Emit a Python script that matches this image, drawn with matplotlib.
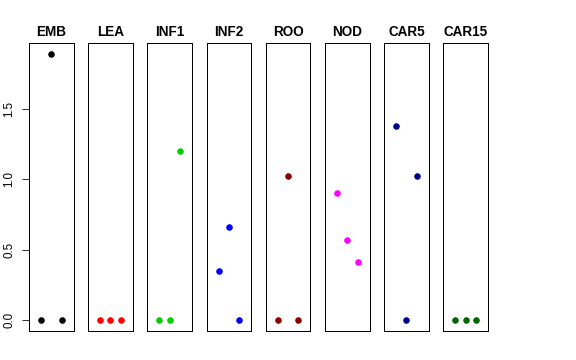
import matplotlib
matplotlib.use("Agg")
import matplotlib.pyplot as plt

plt.rcParams['font.family'] = ['Liberation Sans', 'DejaVu Sans']

# panel names, colours and the three values in each panel
groups = ["EMB", "LEA", "INF1", "INF2", "ROO", "NOD", "CAR5", "CAR15"]
colors = ["black", "red", "#00CD00", "blue", "#8B0000", "magenta", "#00008B", "#006400"]
xpos = [1, 2, 3]
values = [
    [0.0, 1.89, 0.0],
    [0.0, 0.0, 0.0],
    [0.0, 0.0, 1.20],
    [0.35, 0.665, 0.0],
    [0.0, 1.025, 0.0],
    [0.905, 0.57, 0.41],
    [1.378, 0.0, 1.025],
    [0.0, 0.0, 0.0],
]
yticks = [0.0, 0.5, 1.0, 1.5]
ytick_labels = ["0.0", "0.5", "1.0", "1.5"]

W, H = 576, 360
fig = plt.figure(figsize=(W / 72, H / 72), dpi=72)

ymax = max(max(v) for v in values)
ylo, yhi = -0.04 * ymax, 1.04 * ymax

left0, step, pw = 29, 59.2, 44.5
top, bottom = 43, 331

for i, (name, col, vals) in enumerate(zip(groups, colors, values)):
    ax = fig.add_axes([(left0 + i * step) / W, 1 - bottom / H, pw / W, (bottom - top) / H])
    ax.plot(xpos, vals, "o", color=col, markersize=5.5, linestyle="none")
    ax.set_xlim(-0.16, 4.16)
    ax.set_ylim(ylo, yhi)
    ax.set_xticks([])
    ax.set_title(name, fontsize=13.5, fontweight="bold", pad=7)
    for s in ax.spines.values():
        s.set_linewidth(1.0)
    if i == 0:
        ax.set_yticks(yticks)
        ax.tick_params(axis="y", length=7.5, pad=6, labelsize=11.5)
        ax.set_yticklabels(ytick_labels, rotation=90, va="center")
    else:
        ax.set_yticks([])

fig.savefig("out.png", dpi=72)
